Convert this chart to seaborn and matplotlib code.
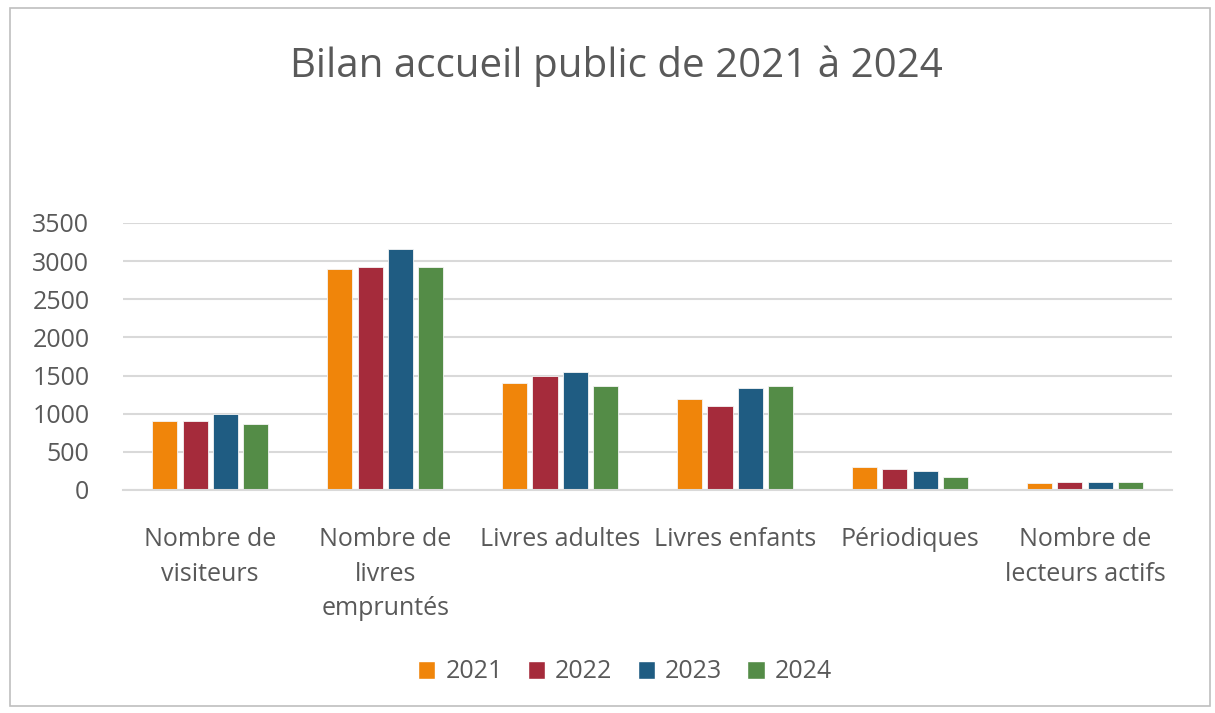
import numpy as np
import pandas as pd
import matplotlib.pyplot as plt
import seaborn as sns
from matplotlib.patches import Rectangle, Patch

# ── data ────────────────────────────────────────────────────────────
categories = [
    "Nombre de\nvisiteurs",
    "Nombre de\nlivres\nempruntés",
    "Livres adultes",
    "Livres enfants",
    "Périodiques",
    "Nombre de\nlecteurs actifs",
]
years = ["2021", "2022", "2023", "2024"]
v2021 = [900, 2890, 1400, 1190, 300, 90]
v2022 = [900, 2920, 1490, 1100, 280, 110]
v2023 = [1000, 3160, 1545, 1340, 255, 110]
v2024 = [860, 2920, 1360, 1360, 175, 110]
colors = ["#F0850A", "#A52B3B", "#1F5C82", "#548C47"]

df = pd.DataFrame({
    "cat": categories * 4,
    "year": np.repeat(years, len(categories)),
    "val": v2021 + v2022 + v2023 + v2024,
})

text_col = "#595959"

sns.set_style("white")
plt.rcParams["font.family"] = ["Open Sans", "DejaVu Sans"]

fig = plt.figure(figsize=(12.15, 7.13), dpi=100)
ax = fig.add_axes([0.101, 0.3128, 0.864, 0.3745])

sns.barplot(
    data=df, x="cat", y="val", hue="year",
    order=categories, hue_order=years, palette=colors, saturation=1,
    width=0.69, gap=0.17, edgecolor="#f4f4f4", linewidth=0.6,
    ax=ax, legend=False,
)

ax.set_ylim(0, 3500)
ax.set_yticks(np.arange(0, 3501, 500))
ax.set_xlim(-0.5, len(categories) - 0.5)
ax.yaxis.grid(True, color="#D9D9D9", linewidth=1.5)
ax.set_axisbelow(True)
for s in ["top", "right", "left"]:
    ax.spines[s].set_visible(False)
ax.spines["bottom"].set_color("#D9D9D9")
ax.spines["bottom"].set_linewidth(1.5)
ax.set_xlabel("")
ax.set_ylabel("")
ax.tick_params(axis="y", length=0, pad=24, labelsize=18, colors=text_col)
ax.tick_params(axis="x", length=0, pad=27, labelsize=18, colors=text_col)
for lab in ax.get_xticklabels():
    lab.set_linespacing(1.5)
    lab.set_verticalalignment("top")

fig.text(0.507, 1 - 66 / 713, "Bilan accueil public de 2021 à 2024",
         ha="center", va="center", fontsize=29, color=text_col)

handles = [Patch(facecolor=c, edgecolor="white", label=y) for c, y in zip(colors, years)]
fig.legend(handles=handles, loc="center", bbox_to_anchor=(625 / 1215, 1 - 672 / 713),
           ncol=4, frameon=False, fontsize=18, labelcolor=text_col,
           handlelength=0.7, handleheight=0.7, handletextpad=0.4, columnspacing=1.0)

# chart border
fig.patches.append(Rectangle((10 / 1215, 1 - 706 / 713), 1200 / 1215, 698 / 713,
                             transform=fig.transFigure, fill=False,
                             edgecolor="#BFBFBF", linewidth=1.2))

fig.savefig("out.png", dpi=100)
plt.close(fig)
